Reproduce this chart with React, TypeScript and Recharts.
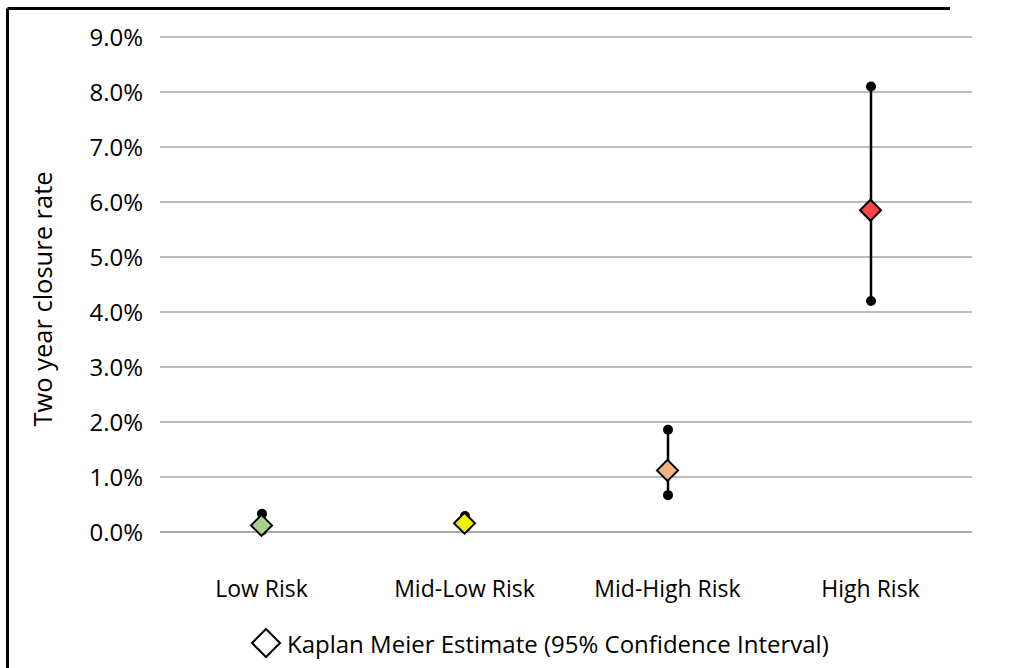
import React from "react";
import { ComposedChart, Bar, Scatter, XAxis, YAxis, CartesianGrid } from "recharts";

// categories and Kaplan Meier estimates (in %)
const categories = ["Low Risk", "Mid-Low Risk", "Mid-High Risk", "High Risk"];
const estimates = [0.12, 0.16, 1.12, 5.85];
const lowerCI = [0.03, 0.07, 0.67, 4.2];
const upperCI = [0.33, 0.29, 1.86, 8.1];
const markerColors = ["#a9d18e", "#f2f200", "#f6b183", "#ff4545"];
const yTicks = [0, 1, 2, 3, 4, 5, 6, 7, 8, 9];

const data = categories.map((name, i) => ({
  name,
  est: estimates[i],
  ci: [lowerCI[i], upperCI[i]],
  color: markerColors[i],
}));

const FONT = "'Open Sans', sans-serif";

// whisker: vertical line with round end points
const Whisker = (props: any) => {
  const { x, y, width, height } = props;
  const cx = x + width / 2;
  return (
    <g>
      <line x1={cx} x2={cx} y1={y} y2={y + height} stroke="#000" strokeWidth={2.5} />
      <circle cx={cx} cy={y} r={5} fill="#000" />
      <circle cx={cx} cy={y + height} r={5} fill="#000" />
    </g>
  );
};

const Diamond = (props: any) => {
  const { cx, cy, payload } = props;
  const r = 10.5;
  return (
    <path
      d={`M${cx},${cy - r} L${cx + r},${cy} L${cx},${cy + r} L${cx - r},${cy} Z`}
      fill={payload.color}
      stroke="#000"
      strokeWidth={2}
      strokeLinejoin="miter"
    />
  );
};

const YLabel = () => (
  <text
    x={0}
    y={0}
    transform="translate(52,299) rotate(-90)"
    textAnchor="middle"
    fontFamily={FONT}
    fontSize={25.5}
    fill="#000"
  >
    Two year closure rate
  </text>
);

export default function App() {
  return (
    <div style={{ position: "fixed", left: 0, top: 0, width: 1009, height: 668, background: "#fff" }}>
      <div style={{ position: "absolute", left: 0, top: 0 }}>
        <ComposedChart width={1009} height={668} data={data} margin={{ top: 37, right: 37, bottom: 76, left: 0 }}>
          <CartesianGrid vertical={false} stroke="#a6a6a6" strokeWidth={1.3} />
          <XAxis
            dataKey="name"
            height={60}
            axisLine={{ stroke: "#a6a6a6", strokeWidth: 1.3 }}
            tickLine={false}
            tickSize={0}
            tickMargin={49}
            tick={{ fill: "#000", fontSize: 23, fontFamily: FONT }}
          />
          <YAxis
            width={160}
            domain={[0, 9]}
            ticks={yTicks}
            interval={0}
            axisLine={false}
            tickLine={false}
            tickSize={0}
            tickMargin={17}
            tickFormatter={(v: number) => `${v.toFixed(1)}%`}
            tick={{ fill: "#000", fontSize: 24, fontFamily: FONT }}
            label={<YLabel />}
          />
          <Bar dataKey="ci" barSize={10} shape={<Whisker />} isAnimationActive={false} />
          <Scatter dataKey="est" shape={<Diamond />} isAnimationActive={false} />
        </ComposedChart>
      </div>
      {/* outer frame: top and left edges */}
      <svg width={1009} height={668} style={{ position: "absolute", left: 0, top: 0, pointerEvents: "none" }}>
        <path d="M7.5,668 V8.5" fill="none" stroke="#000" strokeWidth={3} />
        <path d="M7.5,8.5 H950" fill="none" stroke="#000" strokeWidth={3} />
      </svg>
      <div
        style={{
          position: "absolute",
          left: 250,
          top: 627,
          height: 32,
          display: "flex",
          alignItems: "center",
          fontFamily: FONT,
          fontSize: 24,
          color: "#000",
          whiteSpace: "nowrap",
        }}
      >
        <svg width={32} height={32} style={{ marginRight: 5 }}>
          <path d="M16,2 L30,16 L16,30 L2,16 Z" fill="#fff" stroke="#000" strokeWidth={2} />
        </svg>
        <span>Kaplan Meier Estimate (95% Confidence Interval)</span>
      </div>
    </div>
  );
}
